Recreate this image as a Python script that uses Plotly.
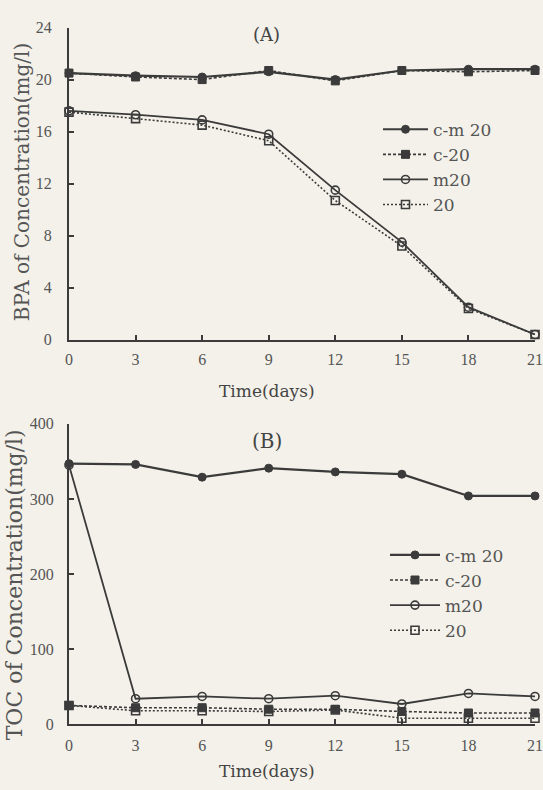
import plotly.graph_objects as go

days = [0, 3, 6, 9, 12, 15, 18, 21]
series_names = ["c-m 20", "c-20", "m20", "20"]

bpa_cm20 = [20.5, 20.3, 20.2, 20.6, 20.0, 20.7, 20.8, 20.8]
bpa_c20 = [20.5, 20.2, 20.0, 20.7, 19.9, 20.7, 20.6, 20.7]
bpa_m20 = [17.6, 17.3, 16.9, 15.8, 11.5, 7.5, 2.5, 0.4]
bpa_20 = [17.5, 17.0, 16.5, 15.3, 10.7, 7.2, 2.4, 0.4]

toc_cm20 = [347, 346, 329, 341, 336, 333, 304, 304]
toc_c20 = [25, 22, 22, 20, 20, 17, 15, 15]
toc_m20 = [345, 34, 37, 34, 38, 27, 41, 37]
toc_20 = [25, 18, 18, 17, 19, 8, 8, 8]

x_ticks = [0, 3, 6, 9, 12, 15, 18, 21]
bpa_ticks = [0, 4, 8, 12, 16, 20, 24]
toc_ticks = [0, 100, 200, 300, 400]

INK = "#3b3b3b"
BG = "#f3f1e9"
W, H = 543, 790

styles = [
    dict(line=dict(color=INK, width=2.2, dash="solid"),
         marker=dict(symbol="circle", size=8, color=INK, line=dict(color=INK, width=1))),
    dict(line=dict(color=INK, width=1.6, dash="3px,2px"),
         marker=dict(symbol="square", size=8, color=INK, line=dict(color=INK, width=1))),
    dict(line=dict(color=INK, width=1.8, dash="solid"),
         marker=dict(symbol="circle-open", size=8, color=INK, line=dict(color=INK, width=1.6))),
    dict(line=dict(color=INK, width=1.6, dash="2px,2px"),
         marker=dict(symbol="square-open", size=8, color=INK, line=dict(color=INK, width=1.6))),
]

fig = go.Figure()
for name, ys, st in zip(series_names, [bpa_cm20, bpa_c20, bpa_m20, bpa_20], styles):
    fig.add_trace(go.Scatter(x=days, y=ys, name=name, mode="lines+markers",
                             xaxis="x", yaxis="y", legend="legend", cliponaxis=False, **st))
for name, ys, st in zip(series_names, [toc_cm20, toc_c20, toc_m20, toc_20], styles):
    fig.add_trace(go.Scatter(x=days, y=ys, name=name, mode="lines+markers",
                             xaxis="x2", yaxis="y2", legend="legend2", cliponaxis=False, **st))

def py(pix):
    return 1 - pix / H

L, R = 69, 8
def px(pix):
    return (pix - L) / (W - L - R)

axis_common = dict(showline=True, linecolor=INK, linewidth=2, ticks="inside", ticklen=5,
                   tickwidth=1.5, tickcolor=INK, showgrid=False, zeroline=False,
                   tickfont=dict(family="Liberation Serif", size=16, color="#555"))

fig.update_layout(
    width=W, height=H,
    margin=dict(l=L, r=R, t=0, b=0),
    paper_bgcolor=BG, plot_bgcolor=BG,
    font=dict(family="Liberation Serif", color="#444"),
    xaxis=dict(domain=[0, 1], anchor="y", range=[0, 21], tickvals=x_ticks,
               ticklabelstandoff=4, **axis_common),
    yaxis=dict(domain=[py(339), py(20)], anchor="x", range=[0, 24], tickvals=bpa_ticks,
               ticklabelstandoff=12, **axis_common),
    xaxis2=dict(domain=[0, 1], anchor="y2", range=[0, 21], tickvals=x_ticks,
                ticklabelstandoff=6, **axis_common),
    yaxis2=dict(domain=[py(732), py(425)], anchor="x2", range=[0, 400], tickvals=toc_ticks,
                ticklabelstandoff=10, **axis_common),
    legend=dict(x=px(378), y=py(106), xanchor="left", yanchor="top", bgcolor="rgba(0,0,0,0)",
                itemwidth=45, font=dict(family="DejaVu Serif", size=17, color="#555"),
                tracegroupgap=0),
    legend2=dict(x=px(385), y=py(541), xanchor="left", yanchor="top", bgcolor="rgba(0,0,0,0)",
                 itemwidth=50, font=dict(family="DejaVu Serif", size=17, color="#555"),
                 tracegroupgap=0),
)

annots = [
    dict(text="(A)", x=266, y=27, size=18),
    dict(text="(B)", x=267, y=443, size=20),
    dict(text="Time(days)", x=267, y=391, size=17),
    dict(text="Time(days)", x=267, y=780, size=17),
]
for a in annots:
    fig.add_annotation(text=a["text"], xref="paper", yref="paper",
                       x=px(a["x"]), y=py(a["y"]), xanchor="center", yanchor="middle",
                       showarrow=False,
                       font=dict(family="DejaVu Serif", size=a["size"], color="#444"))

fig.add_annotation(text="BPA of Concentration(mg/l)", xref="paper", yref="paper",
                   x=px(22), y=py(178), xanchor="center", yanchor="middle", textangle=-90,
                   showarrow=False, font=dict(family="DejaVu Serif", size=20, color="#555"))
fig.add_annotation(text="TOC of Concentration(mg/l)", xref="paper", yref="paper",
                   x=px(14), y=py(590), xanchor="center", yanchor="middle", textangle=-90,
                   showarrow=False, font=dict(family="DejaVu Serif", size=22, color="#555"))

fig.write_html("out.html")
